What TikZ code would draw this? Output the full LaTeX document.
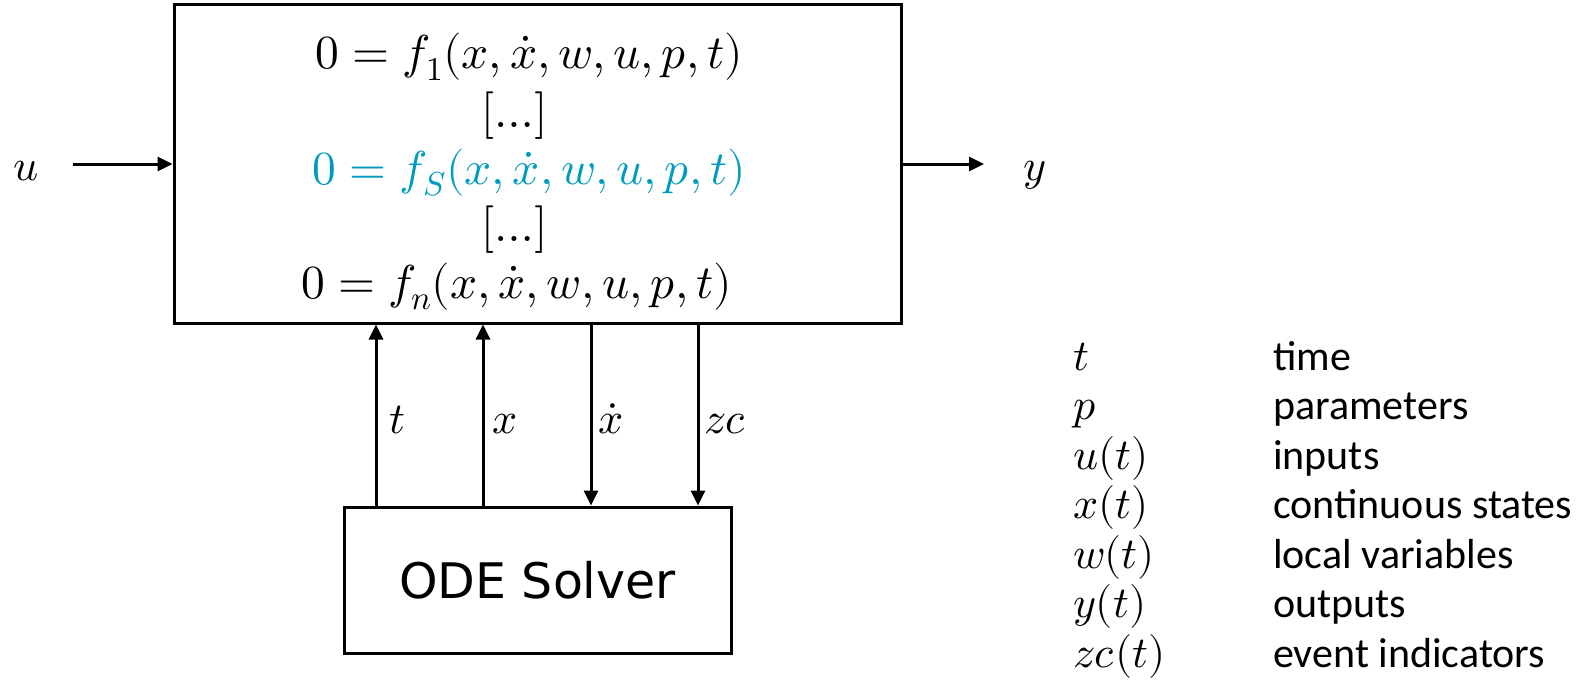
\documentclass[tikz,border=0pt]{standalone}
\usepackage{unicode-math}
\setmathfont{Latin Modern Math}
\newfontfamily\calib{Carlito}
\newfontfamily\dejavu{DejaVu Sans}
\usetikzlibrary{arrows.meta}
\definecolor{eqblue}{RGB}{0,155,190}
\begin{document}
\begin{tikzpicture}[x=1pt,y=-1pt,
  box/.style={draw, line width=3pt, inner sep=0pt},
  arr/.style={line width=3pt, -{Triangle[length=15pt,width=14pt]}},
  eq/.style={inner sep=0pt, anchor=base, font=\fontsize{47.5}{56}\selectfont},
  lbl/.style={inner sep=0pt, anchor=base west, font=\fontsize{44}{52}\selectfont},
  legtext/.style={inner sep=0pt, anchor=base west, font=\calib\fontsize{42}{50}\selectfont}]
\useasboundingbox (0,0) rectangle (1585,685);

% boxes
\node[box, minimum width=727pt, minimum height=318pt] (main) at (537.5,164) {};
\node[box, minimum width=387pt, minimum height=146pt, font=\dejavu\fontsize{49}{58}\selectfont] (solver) at (537.5,580) {ODE Solver};

% equations
\node[eq] (e1) at (529.5,69) {$0=f_1(x,\dot{x},w,u,p,t)$};
\node[eq] (e2) at (514.5,127) {$[\ldots]$};
\node[eq, text=eqblue] (e3) at (529.5,184) {$0=f_S(x,\dot{x},w,u,p,t)$};
\node[eq] (e4) at (514.5,241) {$[\ldots]$};
\node[eq] (e5) at (516.5,298) {$0=f_n(x,\dot{x},w,u,p,t)$};

% input / output
\node[lbl] (u) at (13,180) {$u$};
\node[lbl] (y) at (1023,180) {$y$};
\coordinate (uin) at (73,164);
\coordinate (yout) at (984,164);
\draw[arr] (uin) -- (main.west |- uin);
\draw[arr] (main.east |- yout) -- (yout);

% solver connections
\coordinate (ct) at (376,0);
\coordinate (cx) at (483,0);
\coordinate (cxd) at (591,0);
\coordinate (czc) at (698,0);
\draw[arr] (solver.north -| ct) -- (main.south -| ct);
\draw[arr] (solver.north -| cx) -- (main.south -| cx);
\draw[arr] (main.south -| cxd) -- (solver.north -| cxd);
\draw[arr] (main.south -| czc) -- (solver.north -| czc);
\node[lbl] (lt) at (389,433) {$t$};
\node[lbl] (lx) at (492,433) {$x$};
\node[lbl] (lxd) at (598,433) {$\dot{x}$};
\node[lbl] (lzc) at (704,433) {$zc$};

% legend
\node[lbl] (m1) at (1073,370) {$t$};
\node[lbl] (m2) at (1073,419.5) {$p$};
\node[lbl] (m3) at (1073,469) {$u(t)$};
\node[lbl] (m4) at (1073,518.5) {$x(t)$};
\node[lbl] (m5) at (1073,568) {$w(t)$};
\node[lbl] (m6) at (1073,617.5) {$y(t)$};
\node[lbl] (m7) at (1073,667) {$zc(t)$};
\node[legtext] (d1) at (1273,370) {time};
\node[legtext] (d2) at (1273,419.5) {parameters};
\node[legtext] (d3) at (1273,469) {inputs};
\node[legtext] (d4) at (1273,518.5) {continuous states};
\node[legtext] (d5) at (1273,568) {local variables};
\node[legtext] (d6) at (1273,617.5) {outputs};
\node[legtext] (d7) at (1273,667) {event indicators};
\end{tikzpicture}
\end{document}
